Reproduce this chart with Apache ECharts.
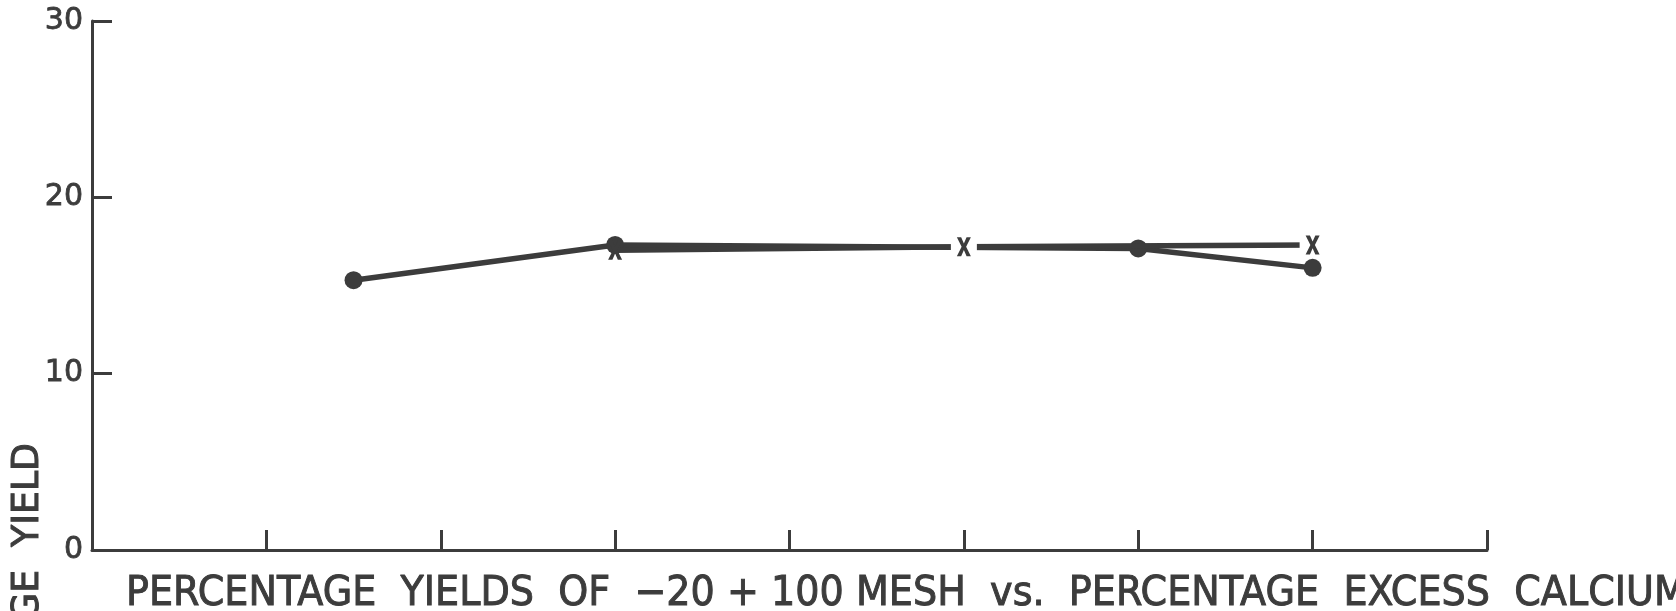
<!DOCTYPE html>
<html>
<head>
<meta charset="utf-8">
<script src="https://cdn.jsdelivr.net/npm/echarts@6/dist/echarts.min.js"></script>
<style>
  html, body { margin: 0; padding: 0; background: #ffffff; }
  #chart { width: 1676px; height: 611px; }
</style>
</head>
<body>
<div id="chart"></div>
<script>
// Series: filled dots
const dotX = [1.5, 3, 6, 7];
const dotY = [15.3, 17.3, 17.1, 16.0];
// Series: crosses
const crossX = [3, 5, 7];
const crossY = [17.0, 17.2, 17.3];
// Axis ticks
const yTicks = [0, 10, 20, 30];
const xTickCount = 8;
const xTitle = 'PERCENTAGE  YIELDS  OF  −20 + 100 MESH  vs.  PERCENTAGE  EXCESS  CALCIUM';
const yTitle = 'PERCENTAGE  YIELD';

const ink = '#3c3c3c';
const chart = echarts.init(document.getElementById('chart'), null, { renderer: 'canvas' });

const crossPath = 'path://M0,0 L4,0 L6.5,6.5 L9,0 L13,0 L8.6,10 L13,20 L9,20 L6.5,13.5 L4,20 L0,20 L4.4,10 Z';

chart.setOption({
  animation: false,
  backgroundColor: '#ffffff',
  grid: { left: 92, right: 189, top: 21, bottom: 61, containLabel: false },
  xAxis: {
    type: 'value',
    min: 0, max: xTickCount, interval: 1,
    axisLine: { show: true, lineStyle: { color: ink, width: 3 } },
    axisTick: { show: true, inside: true, length: 20, lineStyle: { color: ink, width: 3 } },
    axisLabel: { show: false },
    splitLine: { show: false }
  },
  yAxis: {
    type: 'value',
    min: yTicks[0], max: yTicks[yTicks.length - 1], interval: yTicks[1] - yTicks[0],
    axisLine: { show: true, lineStyle: { color: ink, width: 3 } },
    axisTick: { show: true, inside: true, length: 20, lineStyle: { color: ink, width: 3 } },
    axisLabel: { show: true, color: ink, fontSize: 30, fontFamily: 'DejaVu Sans', margin: 9,
                 textBorderColor: ink, textBorderWidth: 0.8 },
    splitLine: { show: false }
  },
  series: [
    {
      name: 'dots',
      type: 'line',
      z: 2,
      data: dotX.map((x, i) => [x, dotY[i]]),
      symbol: 'circle',
      symbolSize: 18,
      showAllSymbol: true,
      lineStyle: { color: ink, width: 5.5 },
      itemStyle: { color: ink }
    },
    {
      name: 'crosses line',
      type: 'line',
      z: 3,
      data: crossX.map((x, i) => ({
        value: [x, crossY[i]],
        symbol: i === 0 ? 'none' : 'rect'
      })),
      symbolSize: [26, 14],
      showAllSymbol: true,
      lineStyle: { color: ink, width: 5.5 },
      itemStyle: { color: '#ffffff', opacity: 1 }
    },
    {
      name: 'crosses',
      type: 'scatter',
      z: 4,
      data: crossX.map((x, i) => [x, crossY[i]]),
      symbol: crossPath,
      symbolSize: [14, 19],
      itemStyle: { color: ink, opacity: 1 }
    }
  ],
  graphic: [
    {
      type: 'text',
      x: 28, y: 443,
      rotation: Math.PI / 2,
      scaleX: 0.98,
      style: {
        text: yTitle,
        fontSize: 37,
        fontFamily: 'DejaVu Sans',
        fill: ink,
        stroke: ink,
        lineWidth: 1,
        align: 'right',
        verticalAlign: 'middle'
      }
    },
    {
      type: 'text',
      x: 126, y: 594,
      scaleX: 0.93,
      style: {
        text: xTitle,
        fontSize: 41,
        fontFamily: 'DejaVu Sans',
        fill: ink,
        stroke: ink,
        lineWidth: 1,
        align: 'left',
        verticalAlign: 'middle'
      }
    }
  ]
});
</script>
</body>
</html>
